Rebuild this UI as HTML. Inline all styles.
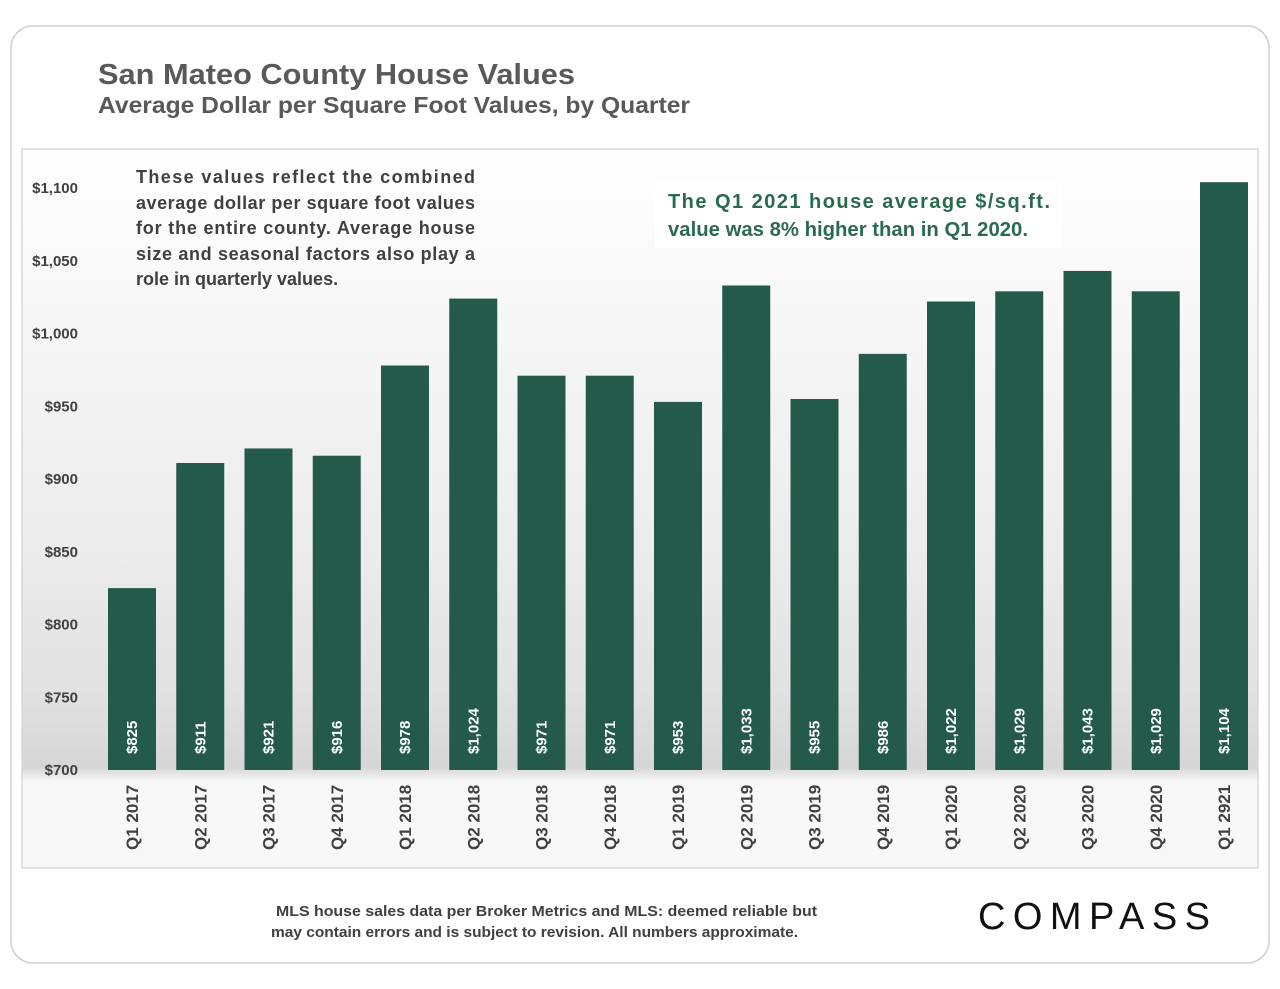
<!DOCTYPE html>
<html><head><meta charset="utf-8"><style>
html,body{margin:0;padding:0;background:#fff;}
svg{display:block;font-family:"Liberation Sans",sans-serif;}
</style></head><body>
<svg id="chart" width="1280" height="989" viewBox="0 0 1280 989" xmlns="http://www.w3.org/2000/svg">
<defs>
<linearGradient id="bg" x1="0" y1="0" x2="0" y2="1">
<stop offset="0" stop-color="#ffffff"/>
<stop offset="0.55" stop-color="#ececec"/>
<stop offset="0.75" stop-color="#e2e2e2"/>
<stop offset="0.86" stop-color="#d6d6d6"/>
<stop offset="0.88" stop-color="#f8f8f8"/>
<stop offset="1" stop-color="#f8f8f8"/>
</linearGradient>
</defs>
<rect x="11" y="26" width="1258" height="937" rx="22" fill="#fff" stroke="#cfcfcf" stroke-width="1.5"/>
<text x="98" y="84" font-size="29" font-weight="bold" fill="#595959" textLength="477" lengthAdjust="spacingAndGlyphs">San Mateo County House Values</text>
<text x="98" y="113" font-size="23" font-weight="bold" fill="#595959" textLength="592" lengthAdjust="spacingAndGlyphs">Average Dollar per Square Foot Values, by Quarter</text>
<rect x="22" y="149" width="1236" height="719" fill="url(#bg)" stroke="#d8d8d8" stroke-width="1.5"/>
<g id="yaxis"></g>
<g id="bars"></g>
<g id="xaxis"></g>
<g font-size="18" font-weight="bold" fill="#404040">
<text x="136" y="183" textLength="339" lengthAdjust="spacing">These values reflect the combined</text>
<text x="136" y="209" textLength="339" lengthAdjust="spacing">average dollar per square foot values</text>
<text x="136" y="234" textLength="339" lengthAdjust="spacing">for the entire county. Average house</text>
<text x="136" y="260" textLength="339" lengthAdjust="spacing">size and seasonal factors also play a</text>
<text x="136" y="285">role in quarterly values.</text>
</g>
<rect x="655" y="180" width="407" height="68" fill="#fff"/>
<g font-size="20" font-weight="bold" fill="#2a6a4e">
<text x="668" y="208" textLength="382" lengthAdjust="spacing">The Q1 2021 house average $/sq.ft.</text>
<text x="668" y="236" textLength="360" lengthAdjust="spacingAndGlyphs">value was 8% higher than in Q1 2020.</text>
</g>
<g font-size="15" font-weight="bold" fill="#404040">
<text x="276" y="916" textLength="541" lengthAdjust="spacingAndGlyphs">MLS house sales data per Broker Metrics and MLS:  deemed reliable but</text>
<text x="271" y="937" textLength="527" lengthAdjust="spacingAndGlyphs">may contain errors and is subject to revision. All numbers approximate.</text>
</g>
<text x="978" y="929" font-size="38" fill="#111" textLength="232" lengthAdjust="spacing">COMPASS</text>
</svg>
<script>
const categories=["Q1 2017","Q2 2017","Q3 2017","Q4 2017","Q1 2018","Q2 2018","Q3 2018","Q4 2018","Q1 2019","Q2 2019","Q3 2019","Q4 2019","Q1 2020","Q2 2020","Q3 2020","Q4 2020","Q1 2921"];
const values=[825,911,921,916,978,1024,971,971,953,1033,955,986,1022,1029,1043,1029,1104];
const yTicks=[700,750,800,850,900,950,1000,1050,1100];
const NS="http://www.w3.org/2000/svg";
const yMin=700,yMax=1100,yBase=770,yTop=188;
function y(v){return yBase-(v-yMin)/(yMax-yMin)*(yBase-yTop);}
function x(i){return 132+i*(1224-132)/(categories.length-1);}
function fmt(v){return "$"+v.toLocaleString("en-US");}
function mk(tag,attrs,parent,txt){const e=document.createElementNS(NS,tag);for(const k in attrs)e.setAttribute(k,attrs[k]);if(txt!==undefined)e.textContent=txt;parent.appendChild(e);return e;}
const ya=document.getElementById("yaxis"),bg=document.getElementById("bars"),xa=document.getElementById("xaxis");
yTicks.forEach(t=>{
  const e=mk("text",{x:78,y:y(t)+5,"text-anchor":"end","font-size":"15","font-weight":"bold",fill:"#404040"},ya,fmt(t));
  
  
});
values.forEach((v,i)=>{
  const cx=x(i);
  const r=mk("rect",{x:cx-24,y:y(v),width:48,height:yBase-y(v),fill:"#245a4a"},bg);
  
  
  const l=mk("text",{x:0,y:0,transform:`translate(${cx+5},${yBase-16}) rotate(-90)`,"font-size":"15","font-weight":"bold",fill:"#fff"},bg,fmt(v));
  
  
  const c=mk("text",{x:0,y:0,transform:`translate(${cx+6},${850}) rotate(-90)`,"font-size":"17","font-weight":"bold",fill:"#404040"},xa,categories[i]);
  
  
});
</script>
</body></html>
